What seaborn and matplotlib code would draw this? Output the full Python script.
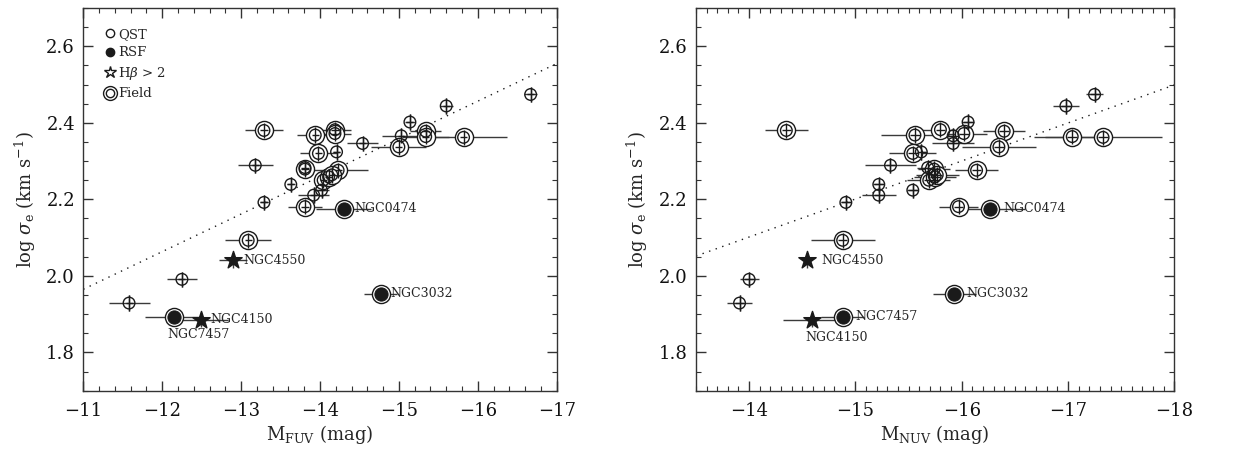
import numpy as np
import pandas as pd
import matplotlib
matplotlib.use("Agg")
import matplotlib.pyplot as plt
import seaborn as sns
from matplotlib.lines import Line2D
from matplotlib.legend_handler import HandlerTuple
from matplotlib.ticker import MultipleLocator

# Galaxy sample: log sigma_e, absolute UV magnitudes and their errors
log_sigma = [2.474, 2.444, 2.402, 2.380, 2.382, 2.372, 2.368, 2.378, 2.364, 2.362,
             2.366, 2.337, 2.346, 2.320, 2.324, 2.289, 2.279, 2.283, 2.276, 2.239,
             2.250, 2.259, 2.264, 2.211, 2.224, 2.192, 2.181, 2.176, 2.093, 2.041,
             1.991, 1.929, 1.893, 1.886, 1.954]
m_fuv = [-16.67, -15.60, -15.14, -13.29, -14.19, -14.19, -13.94, -15.34, -15.34, -15.82,
         -15.03, -15.00, -14.54, -13.98, -14.21, -13.18, -13.81, -13.81, -14.23, -13.63,
         -14.04, -14.11, -14.15, -13.92, -14.02, -13.29, -13.81, -14.30, -13.09, -12.90,
         -12.25, -11.58, -12.15, -12.49, -14.77]
m_fuv_err = [0.08, 0.08, 0.06, 0.24, 0.20, 0.20, 0.23, 0.20, 0.30, 0.55,
             0.25, 0.35, 0.20, 0.23, 0.05, 0.22, 0.10, 0.12, 0.38, 0.05,
             0.10, 0.10, 0.10, 0.20, 0.10, 0.05, 0.22, 0.35, 0.29, 0.18,
             0.19, 0.26, 0.37, 0.34, 0.21]
m_nuv = [-17.25, -16.98, -16.06, -14.35, -15.80, -16.02, -15.56, -16.40, -17.04, -17.33,
         -15.92, -16.35, -15.92, -15.54, -15.62, -15.33, -15.74, -15.68, -16.14, -15.22,
         -15.69, -15.75, -15.77, -15.22, -15.54, -14.91, -15.97, -16.27, -14.88, -14.54,
         -14.00, -13.91, -14.88, -14.59, -15.93]
m_nuv_err = [0.08, 0.12, 0.06, 0.20, 0.22, 0.22, 0.32, 0.20, 0.36, 0.55,
             0.12, 0.35, 0.20, 0.22, 0.05, 0.24, 0.15, 0.10, 0.20, 0.05,
             0.20, 0.20, 0.20, 0.16, 0.05, 0.05, 0.18, 0.33, 0.30, 0.00,
             0.09, 0.12, 0.20, 0.27, 0.20]
log_sigma_err = 0.02
is_field = [0, 0, 0, 1, 1, 1, 1, 1, 1, 1,
            0, 1, 0, 1, 0, 0, 1, 0, 1, 0,
            1, 1, 1, 0, 0, 0, 1, 1, 1, 0,
            0, 0, 1, 0, 1]
# class: QST, RSF (filled circle) or RSF with H-beta > 2 (filled star)
gal_class = ["QST"] * 27 + ["RSF", "QST", "STAR", "QST", "QST", "RSF", "STAR", "RSF"]
gal_name = [""] * 27 + ["NGC0474", "", "NGC4550", "", "", "NGC7457", "NGC4150", "NGC3032"]

# dotted relations: log sigma = a + b * M
fuv_fit = (0.8837, -0.0983)
nuv_fit = (0.7114, -0.0993)

df = pd.DataFrame({"sig": log_sigma, "fuv": m_fuv, "fuv_err": m_fuv_err,
                   "nuv": m_nuv, "nuv_err": m_nuv_err, "field": is_field,
                   "cls": gal_class, "name": gal_name})

# label offsets (points) per panel
fuv_label_off = {"NGC0474": (8, 0, "left"), "NGC4550": (7, 0, "left"),
                 "NGC3032": (7, 0, "left"), "NGC4150": (7, 0, "left"),
                 "NGC7457": (-5, -8, "left")}
nuv_label_off = {"NGC0474": (9, 0, "left"), "NGC4550": (11, 0, "left"),
                 "NGC3032": (9, 0, "left"), "NGC4150": (-5, -8, "left"),
                 "NGC7457": (9, 0, "left")}

sns.set_theme(style="ticks")
plt.rcParams["font.family"] = ["DejaVu Serif"]
plt.rcParams["mathtext.fontset"] = "dejavuserif"
plt.rcParams["axes.edgecolor"] = "#333333"
plt.rcParams["xtick.color"] = "#333333"
plt.rcParams["ytick.color"] = "#333333"
plt.rcParams["xtick.labelcolor"] = "#111111"
plt.rcParams["ytick.labelcolor"] = "#111111"

fig = plt.figure(figsize=(12.34, 4.54), dpi=100)
ax1 = fig.add_axes([0.0675, 0.1394, 0.3836, 0.8430])
ax2 = fig.add_axes([0.5640, 0.1394, 0.3876, 0.8430])


def draw_panel(ax, col, ecol, fit, xlim, xminor, xlabel, offsets):
    ax.errorbar(df[col], df["sig"], xerr=df[ecol], yerr=log_sigma_err, fmt="none",
                ecolor="#3a3a3a", elinewidth=1.0, capsize=0, zorder=2)
    xs = np.array(xlim)
    ax.plot(xs, fit[0] + fit[1] * xs, ls=(0, (1, 4)), color="k", lw=1.0, zorder=1)

    fld = df[df["field"] == 1]
    sns.scatterplot(data=fld, x=col, y="sig", ax=ax, s=170, marker="o",
                    facecolor="white", edgecolor="k", linewidth=1.0, zorder=3)
    qst = df[df["cls"] == "QST"]
    sns.scatterplot(data=qst, x=col, y="sig", ax=ax, s=70, marker="o",
                    facecolor="none", edgecolor="k", linewidth=1.0, zorder=4)
    rsf = df[df["cls"] == "RSF"]
    sns.scatterplot(data=rsf, x=col, y="sig", ax=ax, s=90, marker="o",
                    color="k", edgecolor="k", zorder=5)
    star = df[df["cls"] == "STAR"]
    sns.scatterplot(data=star, x=col, y="sig", ax=ax, s=170, marker="*",
                    color="k", edgecolor="k", zorder=5)
    # crosses drawn over the open circles
    ax.errorbar(qst[col], qst["sig"], xerr=0.045, yerr=log_sigma_err, fmt="none",
                ecolor="k", elinewidth=1.0, zorder=6)

    for _, r in df[df["name"] != ""].iterrows():
        dx, dy, ha = offsets[r["name"]]
        ax.annotate(r["name"], (r[col], r["sig"]), xytext=(dx, dy),
                    textcoords="offset points", ha=ha,
                    va="center" if dy == 0 else "top",
                    fontsize=9, zorder=7)

    ax.set_xlim(*xlim)
    ax.set_ylim(1.7, 2.7)
    ax.xaxis.set_major_locator(MultipleLocator(1))
    ax.xaxis.set_minor_locator(MultipleLocator(xminor))
    ax.yaxis.set_major_locator(MultipleLocator(0.2))
    ax.yaxis.set_minor_locator(MultipleLocator(0.05))
    ax.tick_params(which="both", direction="in", top=True, right=True, labelsize=13)
    ax.tick_params(axis="x", which="major", pad=8)
    ax.tick_params(axis="y", which="major", pad=6)
    ax.tick_params(which="major", length=7, width=1)
    ax.tick_params(which="minor", length=3.5, width=0.8)
    ax.set_xticklabels([f"\u2212{abs(int(round(t)))}" for t in ax.get_xticks()])
    ax.set_xlabel(xlabel, fontsize=13, labelpad=2)
    ax.set_ylabel(r"log $\sigma_{\rm e}$ (km s$^{-1}$)", fontsize=13, labelpad=6)
    for s in ax.spines.values():
        s.set_linewidth(1.0)


draw_panel(ax1, "fuv", "fuv_err", fuv_fit, (-11, -17), 0.2,
           r"M$_{\rm FUV}$ (mag)", fuv_label_off)
draw_panel(ax2, "nuv", "nuv_err", nuv_fit, (-13.5, -18), 0.1,
           r"M$_{\rm NUV}$ (mag)", nuv_label_off)

h_qst = Line2D([], [], marker="o", ls="none", mfc="none", mec="k", ms=6)
h_rsf = Line2D([], [], marker="o", ls="none", mfc="k", mec="k", ms=6)
h_star = Line2D([], [], marker="*", ls="none", mfc="none", mec="k", ms=9)
h_out = Line2D([], [], marker="o", ls="none", mfc="none", mec="k", ms=10)
h_in = Line2D([], [], marker="o", ls="none", mfc="none", mec="k", ms=6)
ax1.legend([h_qst, h_rsf, h_star, (h_out, h_in)],
           ["QST", "RSF", r"H$\beta$ > 2", "Field"],
           handler_map={tuple: HandlerTuple(ndivide=1)},
           loc="upper left", bbox_to_anchor=(0.035, 0.962), frameon=False,
           fontsize=9.5, handlelength=0.8, handletextpad=0.2, labelspacing=0.42,
           borderaxespad=0)

fig.savefig("out.png", dpi=100)
